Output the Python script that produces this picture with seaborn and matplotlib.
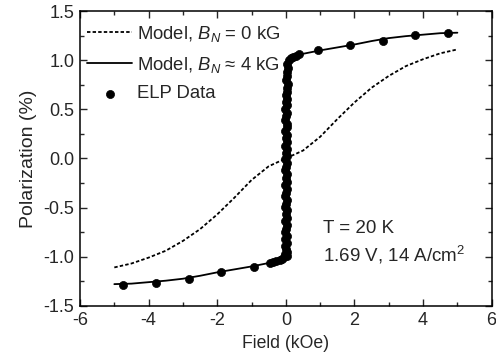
import numpy as np
import pandas as pd
import seaborn as sns
import matplotlib.pyplot as plt
from matplotlib.ticker import MultipleLocator

# Model curve, B_N = 0 kG (dashed)
model0_field = [-5.0, -4.5, -4.0, -3.5, -3.0, -2.5, -2.0, -1.5, -1.0, -0.5, 0.0,
                0.5, 1.0, 1.5, 2.0, 2.5, 3.0, 3.5, 4.0, 4.5, 5.0]
model0_pol = [-1.11, -1.07, -1.01, -0.94, -0.84, -0.72, -0.57, -0.40, -0.22, -0.08, 0.0,
              0.08, 0.22, 0.40, 0.57, 0.72, 0.84, 0.94, 1.01, 1.07, 1.11]

# Model curve, B_N ~ 4 kG (solid)
model4_field = [-5.0, -4.5, -4.0, -3.5, -3.0, -2.5, -2.0, -1.5, -1.0, -0.5, -0.2, -0.05,
                0.05, 0.2, 0.5, 1.0, 1.5, 2.0, 2.5, 3.0, 3.5, 4.0, 4.5, 5.0]
model4_pol = [-1.28, -1.275, -1.26, -1.245, -1.225, -1.195, -1.16, -1.13, -1.10, -1.065, -1.035, -1.0,
              1.0, 1.035, 1.065, 1.10, 1.13, 1.16, 1.195, 1.225, 1.245, 1.26, 1.275, 1.28]

# ELP data: outer sweep points
elp_field = [-4.75, -3.79, -2.83, -1.90, -0.93, -0.47, -0.38, -0.28, -0.18, -0.10, -0.04,
             0.08, 0.14, 0.22, 0.30, 0.38, 0.93, 1.87, 2.83, 3.76, 4.72]
elp_pol = [-1.286, -1.265, -1.224, -1.153, -1.102, -1.06, -1.05, -1.04, -1.03, -1.02, -1.00,
           1.00, 1.02, 1.03, 1.04, 1.06, 1.10, 1.153, 1.20, 1.255, 1.275]

# ELP data: dense column near zero field
col_field = [0.02, -0.02, 0.04, 0.01, -0.03, 0.03, -0.02, 0.04, -0.03, 0.00,
             0.03, -0.02, 0.02, -0.01, 0.04, -0.03, 0.01, 0.03, -0.02, 0.00,
             0.04, -0.02, 0.02, -0.01, 0.03, -0.03, 0.01, 0.04, -0.02, 0.02,
             0.00, 0.04, -0.02, 0.03, -0.01, 0.03, -0.03, 0.02, 0.04, -0.02,
             0.01, 0.04, -0.02, 0.03, 0.00, 0.04, -0.01, 0.02, 0.03, 0.05,
             0.01, 0.04, 0.03, 0.05, 0.02]
col_pol = [-0.99, -0.97, -0.95, -0.92, -0.89, -0.86, -0.82, -0.79, -0.75, -0.72,
           -0.68, -0.64, -0.61, -0.57, -0.53, -0.49, -0.46, -0.42, -0.38, -0.35,
           -0.31, -0.27, -0.24, -0.20, -0.16, -0.12, -0.09, -0.05, -0.01, 0.02,
           0.06, 0.10, 0.13, 0.17, 0.21, 0.24, 0.28, 0.32, 0.35, 0.39,
           0.43, 0.46, 0.50, 0.54, 0.57, 0.61, 0.65, 0.68, 0.72, 0.76,
           0.80, 0.84, 0.88, 0.92, 0.96]

sns.set_style("ticks")
plt.rcParams['font.family'] = ['Liberation Sans', 'DejaVu Sans']
plt.rcParams['mathtext.fontset'] = 'custom'
plt.rcParams['mathtext.it'] = 'Liberation Sans:italic'
plt.rcParams['mathtext.rm'] = 'Liberation Sans'

fig = plt.figure(figsize=(4.96, 3.58), dpi=100)
ax = fig.add_axes([0.1613, 0.146, 0.830, 0.823])

sns.lineplot(x=model0_field, y=model0_pol, ax=ax, color='black', lw=1.3,
             label=r'Model, $B_N$ = 0 kG', sort=False)
ax.lines[-1].set_dashes((1.9, 1.2))
sns.lineplot(x=model4_field, y=model4_pol, ax=ax, color='black', lw=1.3,
             label=r'Model, $B_N$ ≈ 4 kG', sort=False)
sns.scatterplot(x=elp_field + col_field, y=elp_pol + col_pol, ax=ax, color='black', s=34,
                edgecolor='black', linewidth=0.5, label='ELP Data', zorder=3)

ax.set_xlim(-6, 6)
ax.set_ylim(-1.5, 1.5)
ax.xaxis.set_major_locator(MultipleLocator(2))
ax.xaxis.set_minor_locator(MultipleLocator(1))
ax.yaxis.set_major_locator(MultipleLocator(0.5))
ax.yaxis.set_minor_locator(MultipleLocator(0.25))
ax.set_xticklabels([f'{int(v)}' for v in ax.get_xticks()])
ax.set_yticklabels([f'{v:.1f}' for v in ax.get_yticks()])
ax.tick_params(which='both', direction='in', top=True, right=True, labelsize=13)
ax.tick_params(axis='x', pad=4.5)
ax.tick_params(axis='y', pad=4)
ax.tick_params(which='major', length=5, width=1)
ax.tick_params(which='minor', length=3, width=1)
for s in ax.spines.values():
    s.set_linewidth(1.1)
    s.set_color('black')

ax.set_xlabel('Field (kOe)', fontsize=12.7, labelpad=4)
ax.set_ylabel('Polarization (%)', fontsize=14, labelpad=5)

ax.text(1.08, -0.71, 'T = 20 K', fontsize=13.5, va='center')
ax.text(1.08, -0.985, '1.69 V, 14 A/cm$^2$', fontsize=13.5, va='center')

ax.legend(loc='upper left', frameon=False, fontsize=13.3, handlelength=2.4,
          handletextpad=0.3, borderaxespad=0.0, borderpad=0.2, labelspacing=0.58,
          bbox_to_anchor=(0.009, 0.969))

fig.savefig('out.png', dpi=100)
